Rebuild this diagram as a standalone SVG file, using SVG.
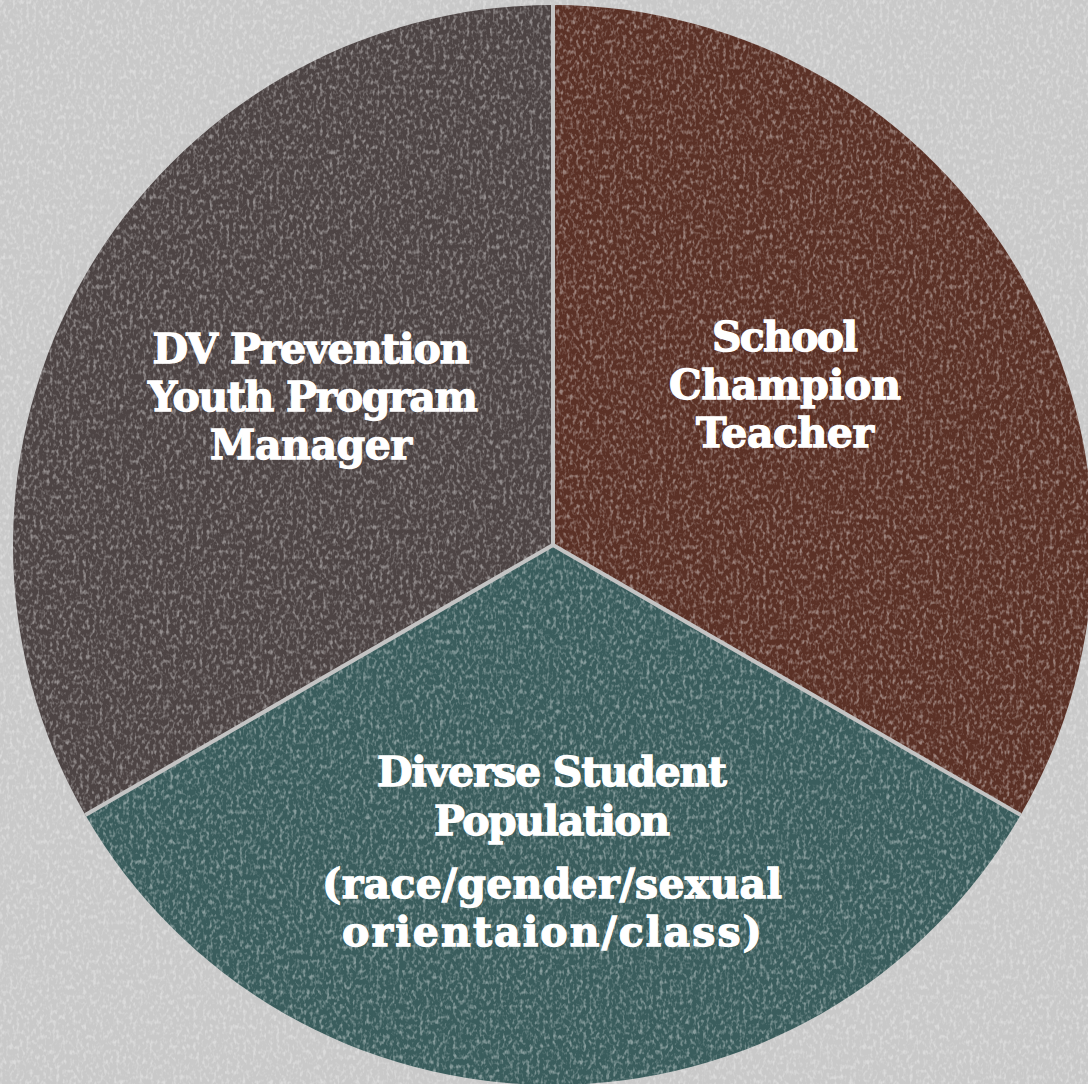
<svg xmlns="http://www.w3.org/2000/svg" width="1088" height="1084" viewBox="0 0 1088 1084">
  <defs>
    <filter id="speckle" x="0" y="0" width="100%" height="100%">
      <feTurbulence type="fractalNoise" baseFrequency="0.3 0.2" numOctaves="2" seed="4" result="n"/>
      <feColorMatrix type="matrix" in="n" values="0 0 0 0 1  0 0 0 0 1  0 0 0 0 1  0 0 0 -3 1.6" result="w"/>
      <feComposite in="w" in2="SourceGraphic" operator="in"/>
    </filter>
    <clipPath id="pieClip"><circle cx="553" cy="545" r="540"/></clipPath>
    <style>
      .lbl { font-family: "DejaVu Serif", "Liberation Serif", serif; font-weight: bold; fill: #ffffff; stroke: #ffffff; stroke-width: 1.3; text-anchor: middle; font-size: 41px; }
      .div { stroke: #c4c4c4; stroke-width: 4; fill: none; }
    </style>
  </defs>
  <rect width="1088" height="1084" fill="#c9c9c9"/>
  <rect width="1088" height="1084" fill="#ffffff" filter="url(#speckle)" opacity="0.35"/>

  <g id="slice-manager">
    <path d="M553,545 L553,5 A540,540 0 0 0 85.35,815 Z" fill="#4d4444"/>
  </g>
  <g id="slice-teacher">
    <path d="M553,545 L553,5 A540,540 0 0 1 1020.65,815 Z" fill="#5b3126"/>
  </g>
  <g id="slice-students">
    <path d="M553,545 L1020.65,815 A540,540 0 0 1 85.35,815 Z" fill="#3a5d5d"/>
  </g>
  <g clip-path="url(#pieClip)">
    <rect width="1088" height="1084" fill="#ffffff" filter="url(#speckle)" opacity="0.4"/>
  </g>

  <g id="connectors">
    <line class="div" x1="553" y1="545" x2="553" y2="5"/>
    <line class="div" x1="553" y1="545" x2="85.35" y2="815"/>
    <line class="div" x1="553" y1="545" x2="1020.65" y2="815"/>
  </g>

  <g id="label-manager">
    <text class="lbl" x="311" y="363" textLength="317">DV Prevention</text>
    <text class="lbl" x="313" y="411" textLength="330">Youth Program</text>
    <text class="lbl" x="311" y="459" textLength="202">Manager</text>
  </g>
  <g id="label-teacher">
    <text class="lbl" x="785" y="351" textLength="146">School</text>
    <text class="lbl" x="785" y="399" textLength="232">Champion</text>
    <text class="lbl" x="785" y="447" textLength="178">Teacher</text>
  </g>
  <g id="label-students">
    <text class="lbl" x="552" y="786" textLength="350">Diverse Student</text>
    <text class="lbl" x="552" y="835" textLength="236">Population</text>
    <text class="lbl" x="552" y="898" textLength="460">(race/gender/sexual</text>
    <text class="lbl" x="552" y="946" textLength="420">orientaion/class)</text>
  </g>
</svg>
